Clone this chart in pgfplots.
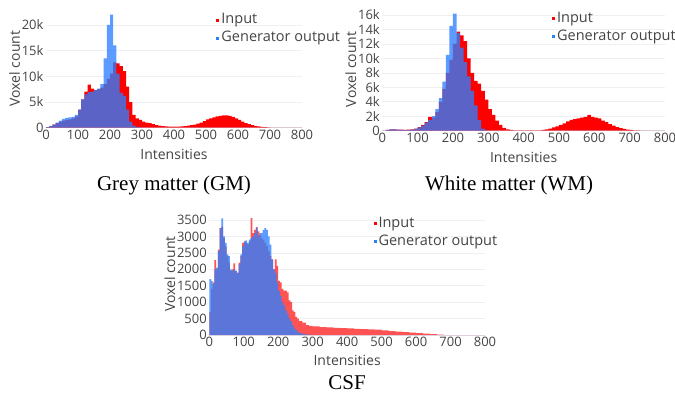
\documentclass[border=0pt]{standalone}
\usepackage{fontspec}
\setmainfont{Liberation Serif}
\newfontfamily\os{Open Sans}
\usepackage{pgfplots}
\pgfplotsset{compat=1.18}
\definecolor{inred}{RGB}{255,0,0}
\definecolor{genblue}{RGB}{46,127,255}
\definecolor{tickgray}{RGB}{68,68,68}
\pgfplotsset{
  hist/.style={
    scale only axis,
    anchor=south west,
    xmin=0, xmax=800,
    ymin=0,
    axis line style={draw=none},
    major tick length=0pt,
    xtick={0,100,...,800},
    scaled y ticks=false,
    /pgf/number format/1000 sep={},
    ymajorgrids,
    grid style={color=gray!12, line width=0.6pt},
    tick label style={font=\os\fontsize{13bp}{14bp}\selectfont, text=tickgray},
    /pgf/number format/assume math mode=true,
    xlabel={Intensities},
    ylabel={Voxel count},
    label style={font=\os\fontsize{14bp}{16bp}\selectfont, text=tickgray},
    xlabel style={yshift=-3bp},
    ylabel style={yshift=-5bp},
    xticklabel style={yshift=1bp},
    yticklabel style={xshift=1bp},
    legend style={draw=none, fill=none, font=\os\fontsize{14.5bp}{16bp}\selectfont, text=tickgray,
      legend cell align=left, row sep=2bp, inner sep=0pt, anchor=north west},
    legend image code/.code={\fill[#1, fill opacity=1] (0bp,-2.5bp) rectangle (3bp,0.5bp);},
    clip=false,
  },
}
\begin{document}
\begin{tikzpicture}
\useasboundingbox (0,0) rectangle (675bp,396bp);

% ---------------- Grey matter ----------------
\begin{axis}[hist, at={(46bp,268.3bp)}, width=256bp, height=118.2bp,
  ymax=23000, ytick={0,5000,10000,15000,20000}, yticklabels={0,5k,10k,15k,20k},
  legend style={at={(0.665,0.985)}}]
\addplot[const plot, fill=inred, draw=none] coordinates {
(0,100)(10,300)(20,600)(30,900)(40,1200)(50,1400)(60,1500)(70,1600)(80,1800)(90,2200)
(100,3500)(110,5500)(120,7000)(130,8400)(140,7600)(150,7300)(160,7500)(170,7800)(180,8500)(190,9500)
(200,10500)(210,12700)(220,12500)(230,12000)(240,11000)(250,8000)(260,5000)(270,2500)(280,1800)(290,1500)
(300,1200)(310,1000)(320,900)(330,700)(340,500)(350,400)(360,300)(370,250)(380,200)(390,200)
(400,200)(410,200)(420,250)(430,300)(440,400)(450,500)(460,600)(470,800)(480,1000)(490,1300)
(500,1600)(510,1800)(520,2000)(530,2200)(540,2300)(550,2400)(560,2400)(570,2300)(580,2100)(590,1800)
(600,1500)(610,1200)(620,900)(630,700)(640,500)(650,350)(660,250)(670,150)(680,100)(690,50)
(700,30)(710,10)(720,0)(800,0)} \closedcycle;
\addlegendentry{Input}
\addplot[const plot, fill=genblue, fill opacity=0.78, draw=none] coordinates {
(0,100)(10,300)(20,600)(30,1000)(40,1400)(50,1700)(60,1900)(70,2000)(80,2100)(90,2500)
(100,3500)(110,5500)(120,6500)(130,6900)(140,7000)(150,7300)(160,7600)(170,8500)(180,13500)(190,20000)
(200,22000)(210,16000)(220,10500)(230,6800)(240,6200)(250,3500)(260,1200)(270,400)(280,150)(290,50)
(300,0)(800,0)} \closedcycle;
\addlegendentry{Generator output}
\end{axis}

% ---------------- White matter ----------------
\begin{axis}[hist, at={(382.3bp,265.3bp)}, width=282.7bp, height=122.9bp,
  ymax=17000, ytick={0,2000,...,16000}, yticklabels={0,2k,4k,6k,8k,10k,12k,14k,16k},
  legend style={at={(0.6,0.985)}}]
\addplot[const plot, fill=inred, draw=none] coordinates {
(0,0)(10,100)(20,200)(30,200)(40,150)(50,150)(60,100)(70,150)(80,200)(90,300)
(100,500)(110,800)(120,1200)(130,1900)(140,1800)(150,2600)(160,4000)(170,5800)(180,8000)(190,9800)
(200,12000)(210,13700)(220,13200)(230,12400)(240,10000)(250,8000)(260,6900)(270,6500)(280,5500)(290,4300)
(300,3000)(310,2200)(320,1400)(330,800)(340,400)(350,200)(360,100)(370,50)(380,50)(390,50)
(400,50)(410,50)(420,50)(430,50)(440,50)(450,100)(460,200)(470,300)(480,450)(490,600)
(500,800)(510,1000)(520,1300)(530,1500)(540,1600)(550,1700)(560,1800)(570,1900)(580,2200)(590,1900)
(600,1800)(610,1700)(620,1400)(630,1200)(640,900)(650,700)(660,500)(670,350)(680,250)(690,150)
(700,100)(710,50)(720,30)(730,0)(800,0)} \closedcycle;
\addlegendentry{Input}
\addplot[const plot, fill=genblue, fill opacity=0.78, draw=none] coordinates {
(0,0)(10,100)(20,200)(30,200)(40,150)(50,100)(60,100)(70,100)(80,150)(90,250)
(100,450)(110,700)(120,1100)(130,1500)(140,2000)(150,3000)(160,4500)(170,6800)(180,10500)(190,14500)
(200,16200)(210,13500)(220,11500)(230,9500)(240,7500)(250,5500)(260,3500)(270,1500)(280,300)(290,50)
(300,0)(800,0)} \closedcycle;
\addlegendentry{Generator output}
\end{axis}

% ---------------- CSF ----------------
\begin{axis}[hist, at={(209.3bp,61bp)}, width=275.7bp, height=121.6bp,
  ymax=3700, ytick={0,500,...,3500},
  xlabel style={yshift=2bp},
  legend style={at={(0.595,0.99)}}]
\addplot[const plot, fill=inred, fill opacity=0.68, draw=none] coordinates {
(0,700)(5,1400)(10,1600)(15,2280)(20,2000)(25,2600)(30,3250)(35,3300)(40,2950)(45,2700)
(50,2400)(55,2200)(60,1950)(65,2000)(70,2180)(75,1950)(80,1900)(85,2200)(90,2400)(95,2800)
(100,2850)(105,2800)(110,2750)(115,2850)(120,3560)(125,3100)(130,3200)(135,3280)(140,3150)(145,3050)
(150,2950)(155,2900)(160,2800)(165,2700)(170,2550)(175,2400)(180,2300)(185,2000)(190,2300)(195,2100)
(200,1650)(205,1600)(210,1400)(215,1350)(220,1350)(225,1300)(230,1050)(235,1000)(240,750)(245,700)
(250,550)(255,500)(260,430)(270,380)(280,300)(290,280)(300,260)(320,240)(340,230)(360,220)
(380,210)(400,200)(420,190)(440,180)(460,170)(480,160)(500,140)(520,120)(540,100)(560,85)
(580,70)(600,55)(620,40)(640,25)(660,10)(680,0)(800,0)} \closedcycle;
\addlegendentry{Input}
\addplot[const plot, fill=genblue, fill opacity=0.78, draw=none] coordinates {
(0,1700)(5,1650)(10,1550)(15,2000)(20,2050)(25,2550)(30,3250)(35,3550)(40,3000)(45,2800)
(50,2450)(55,2400)(60,2000)(65,1950)(70,2000)(75,1950)(80,1880)(85,2150)(90,2450)(95,2700)
(100,2850)(105,2880)(110,2800)(115,2900)(120,2950)(125,3000)(130,3100)(135,3250)(140,3000)(145,3100)
(150,3100)(155,3200)(160,3250)(165,3200)(170,3000)(175,2750)(180,2300)(185,2000)(190,1880)(195,1600)
(200,1350)(205,1200)(210,1000)(215,900)(220,750)(225,650)(230,500)(235,420)(240,300)(245,220)
(250,150)(255,100)(260,60)(270,30)(280,15)(290,5)(300,0)(800,0)} \closedcycle;
\addlegendentry{Generator output}
\end{axis}

% captions
\node[font=\fontsize{21bp}{24bp}\selectfont] at (174bp,211bp) {Grey matter (GM)};
\node[font=\fontsize{21bp}{24bp}\selectfont] at (509bp,211bp) {White matter (WM)};
\node[font=\fontsize{21bp}{24bp}\selectfont] at (347bp,13bp) {CSF};
\end{tikzpicture}
\end{document}
